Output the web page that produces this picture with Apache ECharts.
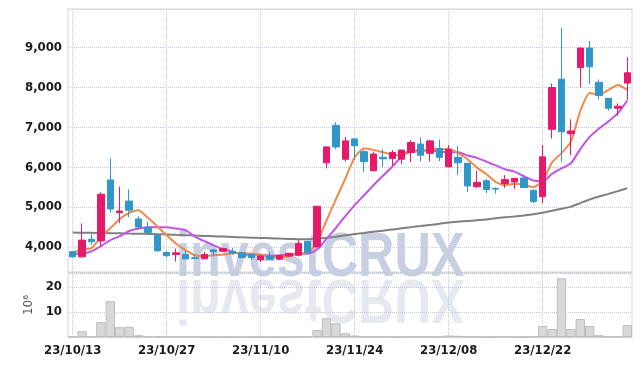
<!DOCTYPE html>
<html><head><meta charset="utf-8">
<script src="https://cdn.jsdelivr.net/npm/echarts@6/dist/echarts.min.js"></script>
<style>html,body{margin:0;padding:0;background:#fff}#c{width:642px;height:366px}</style>
</head><body><div id="c"></div>
<script>
const dates = ['23/10/13','23/10/16','23/10/17','23/10/18','23/10/19','23/10/20','23/10/23','23/10/24','23/10/25','23/10/26',
'23/10/27','23/10/30','23/10/31','23/11/01','23/11/02','23/11/03','23/11/06','23/11/07','23/11/08','23/11/09',
'23/11/10','23/11/13','23/11/14','23/11/15','23/11/16','23/11/17','23/11/20','23/11/21','23/11/22','23/11/23',
'23/11/24','23/11/27','23/11/28','23/11/29','23/11/30','23/12/01','23/12/04','23/12/05','23/12/06','23/12/07',
'23/12/08','23/12/11','23/12/12','23/12/13','23/12/14','23/12/15','23/12/18','23/12/19','23/12/20','23/12/21',
'23/12/22','23/12/26','23/12/27','23/12/28','24/01/02','24/01/03','24/01/04','24/01/05','24/01/08','24/01/09'];
const xTickLabels = ['23/10/13','23/10/27','23/11/10','23/11/24','23/12/08','23/12/22'];
const opens  = [3880,3750,4190,4150,5680,4860,5150,4700,4480,4290, 3860,3810,3810,3725,3700,3920,3890,3890,3850,3810,
 3680,3770,3690,3770,3790,4140,4000,6110,7050,6200, 6710,6390,5910,6250,6220,6200,6370,6580,6350,6470,
 6010,6250,6100,5510,5660,5470,5590,5630,5730,5420, 5260,6950,8210,6840,8500,8990,8130,7730,7480,8110];
const highs  = [3890,4590,4330,5370,6220,5510,5440,4770,4630,4330, 3900,3960,3900,3810,3880,3950,3980,3970,3880,3830,
 3790,3870,3790,3850,4170,4150,5030,6520,7130,6760, 6720,6430,6380,6450,6430,6440,6680,6750,6690,6690,
 6560,6530,6110,5910,5700,5490,5800,5730,5800,5440, 6560,8100,9490,7200,9000,9170,8200,7730,7600,8760];
const lows   = [3740,3730,4050,4000,4860,4600,4750,4440,4350,3900, 3730,3630,3700,3710,3690,3760,3870,3800,3720,3680,
 3620,3680,3680,3750,3760,3840,3990,5970,6450,6140, 6180,5870,5900,6010,6050,6080,6130,6140,6140,6150,
 6000,5800,5380,5480,5350,5340,5480,5450,5490,5100, 5100,6720,6140,6300,8000,8090,7700,7420,7290,7690];
const closes = [3750,4170,4130,5320,4950,4900,4920,4500,4360,3900, 3780,3850,3700,3710,3810,3880,3960,3840,3730,3730,
 3770,3690,3780,3840,4090,3850,5020,6510,6510,6660, 6540,6140,6330,6210,6370,6430,6620,6300,6660,6250,
 6450,6110,5530,5620,5440,5450,5690,5720,5490,5140, 6260,8000,6890,6910,8990,8520,7800,7480,7530,8370];
const ma5  = [3850,3940,3970,4250,4470,4700,4850,4920,4730,4520, 4290,4080,3920,3790,3770,3790,3810,3840,3845,3830,
 3805,3750,3740,3760,3835,3850,4115,4660,5195,5710, 6250,6470,6435,6375,6320,6295,6390,6385,6475,6450,
 6455,6355,6200,5990,5830,5630,5545,5585,5560,5500, 5660,6120,6355,6640,7410,7860,7820,7940,8065,7940];
const ma10 = [3830,3830,3890,4020,4170,4270,4400,4460,4500,4490, 4495,4460,4420,4255,4145,4040,3945,3880,3815,3800,
 3800,3780,3790,3805,3830,3830,3935,4200,4480,4770, 5050,5295,5550,5785,6015,6270,6430,6410,6425,6385,
 6375,6375,6295,6235,6140,6045,5950,5890,5775,5665, 5645,5835,5970,6100,6455,6760,6970,7150,7355,7675];
const ma60 = [4360,4355,4352,4348,4344,4340,4335,4330,4324,4318, 4311,4302,4294,4285,4276,4267,4258,4249,4240,4232,
 4226,4217,4208,4200,4194,4190,4202,4228,4256,4290, 4322,4350,4380,4408,4437,4466,4496,4522,4550,4578,
 4612,4632,4650,4668,4686,4720,4742,4765,4790,4818, 4855,4905,4955,5010,5100,5190,5265,5330,5400,5475];
const volumes = [0.2,2.3,0.3,5.9,14.3,3.9,4.1,0.7,0.3,0.3, 0.3,0.2,0.1,0.3,0.1,0.1,0.1,0.1,0.1,0.1,
 0.1,0.1,0.1,0.1,0.2,0.3,2.8,7.5,5.5,1.5, 0.6,0.2,0.2,0.2,0.1,0.1,0.2,0.2,0.2,0.1,
 0.6,0.5,0.2,0.2,0.1,0.1,0.2,0.1,0.1,0.3, 4.4,3.2,23.5,3.2,7.2,4.4,0.7,0.3,0.3,4.8];

const FONT = '"DejaVu Sans Condensed", "Liberation Sans Narrow", sans-serif';
const WM_FONT = 'bold 63px "Liberation Sans", Arial, sans-serif';
const gridLine = {type:'dotted', color:'#c5c9dc', width:1};
const vLines = {
  silent:true, symbol:['none','none'], z:1, label:{show:false},
  lineStyle:gridLine, emphasis:{disabled:true},
  data: xTickLabels.map(d => ({xAxis:d}))
};
const chart = echarts.init(document.getElementById('c'), null, {renderer:'canvas'});
chart.setOption({
  animation:false,
  backgroundColor:'#fff',
  graphic:[
    {type:'text', z:0, x:176, y:290, scaleX:0.8, style:{text:'investCRUX', font:WM_FONT, fill:'#c9cfe3', verticalAlign:'bottom'}},
    {type:'text', z:0, x:176, y:266, scaleX:0.8, scaleY:-1, style:{text:'investCRUX', font:WM_FONT, fill:'#e7e9f1', verticalAlign:'bottom'}}
  ],
  grid:[
    {left:68, right:10, top:9, height:263, show:true, borderColor:'#d6d6d6', borderWidth:1, backgroundColor:'transparent'},
    {left:68, right:10, top:273, height:64, show:true, borderColor:'#d6d6d6', borderWidth:1, backgroundColor:'transparent'}
  ],
  xAxis:[
    {type:'category', gridIndex:0, data:dates, boundaryGap:true, axisLine:{show:false}, axisTick:{show:false}, axisLabel:{show:false}, splitLine:{show:false}},
    {type:'category', gridIndex:1, data:dates, boundaryGap:true, axisLine:{show:true, lineStyle:{color:'#cfcfcf'}}, axisTick:{show:false},
     axisLabel:{interval:(i,v)=>xTickLabels.includes(v), fontFamily:FONT, fontWeight:'bold', fontSize:13, color:'#1a1a1a', margin:7},
     splitLine:{show:false}}
  ],
  yAxis:[
    {type:'value', gridIndex:0, min:3370, max:9970, axisLine:{show:false}, axisTick:{show:false},
     splitLine:{show:true, lineStyle:gridLine},
     axisLabel:{showMinLabel:false, showMaxLabel:false, fontFamily:FONT, fontWeight:'bold', fontSize:13, color:'#1a1a1a', margin:6,
       formatter:v=>v.toLocaleString('en-US')}},
    {type:'value', gridIndex:1, min:0, max:25.6, interval:10, axisLine:{show:false}, axisTick:{show:false},
     splitLine:{show:true, lineStyle:gridLine},
     name:'10\u2076', nameLocation:'middle', nameRotate:90, nameGap:26,
     nameTextStyle:{fontFamily:'DejaVu Sans', fontSize:12, color:'#555'},
     axisLabel:{showMinLabel:false, showMaxLabel:false, fontFamily:FONT, fontWeight:'bold', fontSize:13, color:'#1a1a1a', margin:6}}
  ],
  series:[
    {type:'candlestick', xAxisIndex:0, yAxisIndex:0, barWidth:7, z:3,
     data: dates.map((d,i)=>[opens[i], closes[i], lows[i], highs[i]]),
     itemStyle:{color:'#e61a6b', color0:'#3196c8', borderColor:'#e61a6b', borderColor0:'#3196c8', borderWidth:1},
     markLine:vLines},
    {type:'line', xAxisIndex:0, yAxisIndex:0, data:ma60, showSymbol:false, smooth:0.2, z:2, lineStyle:{color:'#808080', width:2}},
    {type:'line', xAxisIndex:0, yAxisIndex:0, data:ma10, showSymbol:false, smooth:0.2, z:2, lineStyle:{color:'#c552e6', width:2}},
    {type:'line', xAxisIndex:0, yAxisIndex:0, data:ma5, showSymbol:false, smooth:0.2, z:2, lineStyle:{color:'#ef8a4c', width:2}},
    {type:'bar', xAxisIndex:1, yAxisIndex:1, data:volumes, barWidth:'100%', z:3,
     itemStyle:{color:'#d8d8d8', borderColor:'#bdbdbd', borderWidth:1},
     markLine:vLines}
  ]
});
</script></body></html>
